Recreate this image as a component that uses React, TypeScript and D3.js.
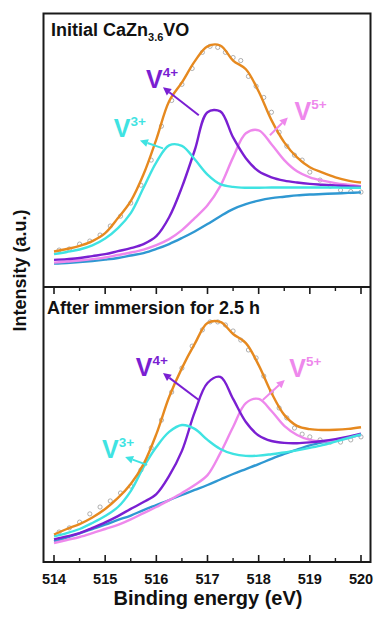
import React from 'react';
import * as d3 from 'd3';

// Binding energy grid (eV) shared by the fitted curves
const energy = [514, 514.25, 514.5, 514.75, 515, 515.25, 515.5, 515.75, 516, 516.25, 516.5, 516.75, 517, 517.25, 517.5, 517.75, 518, 518.25, 518.5, 518.75, 519, 519.25, 519.5, 519.75, 520];

// Initial CaZn3.6VO (a.u.)
const initEnvelope = [13.0, 13.9, 15.0, 16.8, 19.7, 25.2, 31.4, 41.2, 54.0, 67.9, 74.8, 82.5, 88.0, 88.3, 82.8, 79.6, 71.5, 61.0, 52.9, 47.4, 43.8, 41.8, 40.1, 38.9, 38.2];
const initV3 = [12.0, 12.8, 13.7, 15.2, 17.7, 21.5, 27.0, 36.3, 45.6, 51.8, 51.6, 46.7, 41.1, 37.6, 36.6, 36.3, 36.3, 36.4, 36.4, 36.4, 36.4, 36.4, 36.4, 36.3, 36.3];
const initV4 = [9.9, 10.2, 10.6, 11.3, 12.0, 13.1, 14.2, 15.7, 18.6, 25.5, 36.5, 50.0, 63.9, 64.2, 54.7, 47.1, 42.3, 40.1, 38.9, 38.2, 37.7, 37.4, 37.1, 36.9, 36.6];
const initV5 = [8.9, 9.3, 9.7, 10.2, 10.8, 11.7, 12.6, 13.7, 15.3, 17.5, 20.8, 25.2, 29.9, 36.9, 47.4, 56.2, 57.3, 52.2, 46.4, 42.3, 40.1, 38.9, 38.0, 37.4, 36.9];
const initBackground = [8.6, 8.8, 9.1, 9.5, 10.0, 10.6, 11.5, 12.4, 13.9, 15.7, 17.9, 20.3, 23.0, 25.9, 28.5, 30.3, 31.6, 32.5, 33.0, 33.5, 33.8, 34.0, 34.2, 34.4, 34.6];

// After immersion for 2.5 h (a.u.)
const afterEnvelope = [10.0, 12.0, 13.8, 16.2, 19.3, 23.3, 28.4, 35.6, 46.5, 60.0, 70.5, 79.3, 86.9, 87.3, 82.9, 79.6, 71.6, 61.5, 53.5, 49.5, 48.3, 48.0, 48.1, 48.4, 49.0];
const afterV3 = [9.3, 10.5, 12.0, 14.2, 16.7, 20.0, 25.8, 34.5, 41.8, 47.3, 49.8, 48.4, 44.4, 41.1, 39.3, 38.6, 38.7, 39.2, 39.8, 40.6, 41.5, 42.5, 43.8, 45.1, 46.4];
const afterV4 = [8.2, 9.3, 10.5, 12.4, 14.4, 16.7, 19.3, 21.8, 24.7, 31.3, 40.4, 54.5, 65.1, 67.3, 59.3, 50.9, 46.0, 44.0, 43.3, 43.2, 43.5, 44.0, 44.7, 45.6, 46.7];
const afterV5 = [6.9, 8.0, 9.1, 10.5, 12.0, 13.5, 15.5, 17.8, 20.0, 22.5, 25.1, 28.0, 31.6, 39.6, 49.1, 57.8, 59.3, 54.9, 49.5, 46.2, 44.4, 43.9, 44.2, 45.1, 46.4];
const afterBackground = [7.5, 8.9, 10.4, 12.0, 13.6, 15.3, 16.9, 18.9, 20.7, 22.5, 24.4, 26.2, 28.0, 30.0, 32.0, 33.8, 35.6, 37.5, 39.3, 40.9, 42.4, 43.5, 44.4, 45.3, 46.2];

// Measured spectra (open circles)
const rawEnergy = [514.1, 514.3, 514.5, 514.7, 514.9, 515.1, 515.3, 515.5, 515.7, 515.9, 516.1, 516.3, 516.5, 516.7, 516.9, 517.05, 517.2, 517.35, 517.5, 517.65, 517.8, 517.95, 518.1, 518.25, 518.4, 518.55, 518.7, 518.85, 519.0, 519.2, 519.4, 519.6, 519.8, 520.0];
const initRaw = [13.5, 13.9, 15.7, 16.8, 19.0, 22.3, 25.9, 30.7, 37.2, 46.4, 58.8, 68.2, 74.1, 79.9, 85.8, 88.0, 87.6, 85.8, 83.9, 82.8, 77.0, 73.4, 69.3, 63.9, 56.6, 51.5, 48.2, 46.4, 42.0, 39.1, 36.9, 35.4, 34.9, 34.7];
const afterRaw = [10.9, 12.4, 14.5, 17.5, 20.0, 22.2, 25.1, 27.6, 33.5, 41.5, 51.6, 61.8, 70.5, 78.5, 84.4, 87.3, 87.3, 86.2, 84.0, 80.7, 77.1, 74.2, 67.6, 61.8, 56.0, 52.4, 48.7, 46.5, 45.5, 44.4, 43.6, 43.6, 44.4, 45.5];

const majorTicks = [514, 515, 516, 517, 518, 519, 520];
const minorTicks = [514.5, 515.5, 516.5, 517.5, 518.5, 519.5];

const ionNames = ['3+', '4+', '5+'];
// label anchor [energy, intensity], arrow tail, arrow head, per ion
const initLabelPos = [[515.17, 54.9], [515.8, 72.6], [518.7, 60.9]];
const initArrowFrom = [[516.13, 50.7], [516.83, 62.8], [518.22, 55.5]];
const initArrowTo = [[515.68, 53.6], [516.13, 73.0], [518.57, 62.0]];
const afterLabelPos = [[514.94, 37.8], [515.6, 67.6], [518.6, 67.3]];
const afterArrowFrom = [[515.82, 35.3], [516.83, 58.9], [518.08, 58.9]];
const afterArrowTo = [[515.39, 38.2], [516.13, 68.7], [518.51, 66.2]];

const COLORS = {
  envelope: '#E6891F',
  v3: '#3FE3E2',
  v4: '#7A1FD2',
  v5: '#EE88EC',
  background: '#2F98D2',
  raw: '#8E8E8E',
};
const ionColors = [COLORS.v3, COLORS.v4, COLORS.v5];

const W = 375;
const H = 619;
const FRAME_L = 43.5;
const FRAME_R = 370.5;
const FRAME_T = 13.5;
const FRAME_MID = 287;
const FRAME_B = 562;
const FONT = '"Liberation Sans", Arial, Helvetica, sans-serif';

const x = d3.scaleLinear().domain([514, 520]).range([54, 361]);

function Arrow({ from, to, color, sx, sy }) {
  const x1 = sx(from[0]);
  const y1 = sy(from[1]);
  const x2 = sx(to[0]);
  const y2 = sy(to[1]);
  const ang = Math.atan2(y2 - y1, x2 - x1);
  const len = 8;
  const half = 4;
  const bx = x2 - len * Math.cos(ang);
  const by = y2 - len * Math.sin(ang);
  const px = -Math.sin(ang) * half;
  const py = Math.cos(ang) * half;
  return (
    <g>
      <line x1={x1} y1={y1} x2={bx} y2={by} stroke={color} strokeWidth={2} />
      <polygon points={`${x2},${y2} ${bx + px},${by + py} ${bx - px},${by - py}`} fill={color} />
    </g>
  );
}

function Panel({ top, bottom, envelope, v3, v4, v5, background, raw, labelPos, arrowFrom, arrowTo }) {
  const y = d3.scaleLinear().domain([0, 100]).range([bottom, top]);
  const line = d3
    .line<number>()
    .x((_, i) => x(energy[i]))
    .y((d) => y(d))
    .curve(d3.curveCatmullRom.alpha(0.5));
  const curves = [
    { data: background, color: COLORS.background },
    { data: v5, color: COLORS.v5 },
    { data: v4, color: COLORS.v4 },
    { data: v3, color: COLORS.v3 },
    { data: envelope, color: COLORS.envelope },
  ];
  return (
    <g>
      {raw.map((d, i) => (
        <circle key={`r${i}`} cx={x(rawEnergy[i])} cy={y(d)} r={2.1} fill="none" stroke={COLORS.raw} strokeWidth={0.7} />
      ))}
      {curves.map((c, i) => (
        <path key={`c${i}`} d={line(c.data) || ''} fill="none" stroke={c.color} strokeWidth={2.4} strokeLinejoin="round" />
      ))}
      {ionNames.map((name, i) => (
        <g key={`l${i}`}>
          <Arrow from={arrowFrom[i]} to={arrowTo[i]} color={ionColors[i]} sx={x} sy={y} />
          <text x={x(labelPos[i][0])} y={y(labelPos[i][1])} fill={ionColors[i]} fontFamily={FONT} fontWeight="bold" fontSize={25}>
            V
            <tspan dy={-11} fontSize={13.5}>{name}</tspan>
          </text>
        </g>
      ))}
    </g>
  );
}

export default function App() {
  return (
    <div style={{ position: 'fixed', left: 0, top: 0, width: W, height: H, background: '#fff' }}>
      <svg width={W} height={H} viewBox={`0 0 ${W} ${H}`} style={{ display: 'block' }}>
        <rect x={0} y={0} width={W} height={H} fill="#fff" />
        <Panel
          top={FRAME_T}
          bottom={FRAME_MID}
          envelope={initEnvelope}
          v3={initV3}
          v4={initV4}
          v5={initV5}
          background={initBackground}
          raw={initRaw}
          labelPos={initLabelPos}
          arrowFrom={initArrowFrom}
          arrowTo={initArrowTo}
        />
        <Panel
          top={FRAME_MID}
          bottom={FRAME_B}
          envelope={afterEnvelope}
          v3={afterV3}
          v4={afterV4}
          v5={afterV5}
          background={afterBackground}
          raw={afterRaw}
          labelPos={afterLabelPos}
          arrowFrom={afterArrowFrom}
          arrowTo={afterArrowTo}
        />

        {/* frames */}
        <rect x={FRAME_L} y={FRAME_T} width={FRAME_R - FRAME_L} height={FRAME_B - FRAME_T} fill="none" stroke="#1a1a1a" strokeWidth={2} />
        <line x1={FRAME_L} x2={FRAME_R} y1={FRAME_MID} y2={FRAME_MID} stroke="#1a1a1a" strokeWidth={2} />

        {/* ticks: bottom axis (inward) and the shared divider (pointing down) */}
        {majorTicks.map((t) => (
          <g key={`M${t}`}>
            <line x1={x(t)} x2={x(t)} y1={FRAME_B} y2={FRAME_B - 7} stroke="#1a1a1a" strokeWidth={1.6} />
            <line x1={x(t)} x2={x(t)} y1={FRAME_MID} y2={FRAME_MID + 7} stroke="#1a1a1a" strokeWidth={1.6} />
            <text x={x(t)} y={583.5} textAnchor="middle" fontFamily={FONT} fontWeight="bold" fontSize={14.5} fill="#111">
              {t}
            </text>
          </g>
        ))}
        {minorTicks.map((t) => (
          <g key={`m${t}`}>
            <line x1={x(t)} x2={x(t)} y1={FRAME_B} y2={FRAME_B - 4} stroke="#1a1a1a" strokeWidth={1.4} />
            <line x1={x(t)} x2={x(t)} y1={FRAME_MID} y2={FRAME_MID + 4} stroke="#1a1a1a" strokeWidth={1.4} />
          </g>
        ))}

        {/* panel titles */}
        <text x={51} y={36.3} fontFamily={FONT} fontWeight="bold" fontSize={18} fill="#111">
          Initial CaZn
          <tspan dy={4.5} fontSize={11}>3.6</tspan>
          <tspan dy={-4.5}>VO</tspan>
        </text>
        <text x={47} y={314} fontFamily={FONT} fontWeight="bold" fontSize={18} fill="#111">
          After immersion for 2.5 h
        </text>

        {/* axis titles */}
        <text x={208} y={605} textAnchor="middle" fontFamily={FONT} fontWeight="bold" fontSize={20} fill="#111">
          Binding energy (eV)
        </text>
        <text
          transform="translate(25.5,270.5) rotate(-90)"
          textAnchor="middle"
          fontFamily={FONT}
          fontWeight="bold"
          fontSize={18}
          fill="#111"
        >
          Intensity (a.u.)
        </text>
      </svg>
    </div>
  );
}
